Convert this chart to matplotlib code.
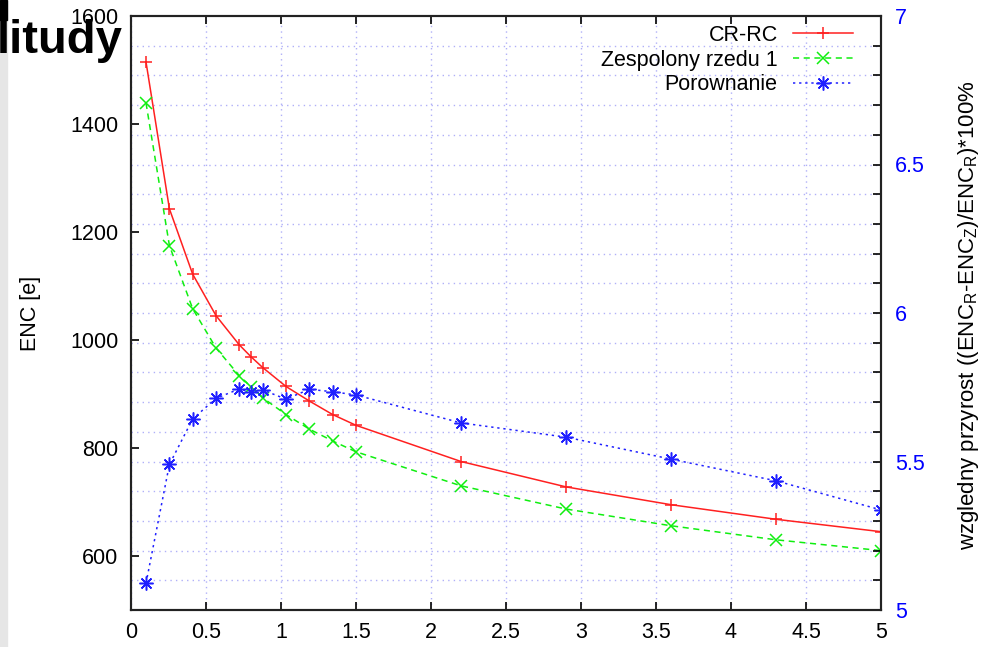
import matplotlib
matplotlib.use("Agg")
import matplotlib.pyplot as plt
from matplotlib.ticker import MultipleLocator, FuncFormatter
from matplotlib.patches import Rectangle

plt.rcParams['font.family'] = ['Liberation Sans', 'DejaVu Sans']
plt.rcParams['mathtext.fontset'] = 'custom'
plt.rcParams['mathtext.rm'] = 'Liberation Sans'
plt.rcParams['mathtext.it'] = 'Liberation Sans:italic'

# data
x = [0.1, 0.256, 0.411, 0.567, 0.722, 0.8, 0.878, 1.033, 1.189, 1.344, 1.5,
     2.2, 2.9, 3.6, 4.3, 5.0]
crrc = [1515, 1243, 1122, 1045, 991, 969, 949, 914, 887, 862, 842,
        775, 728, 695, 668, 645]
zespolony = [1439, 1175, 1058, 985, 934, 913, 893, 862, 835, 813, 793,
             730, 687, 656, 630, 610]
porownanie = [5.09, 5.49, 5.643, 5.713, 5.744, 5.734, 5.741, 5.71, 5.743, 5.735, 5.724,
              5.63, 5.582, 5.508, 5.435, 5.337]
labels = ["CR-RC", "Zespolony rzedu 1", "Porownanie"]

W, H = 983, 647
fig = plt.figure(figsize=(W / 100, H / 100), dpi=100)
ax = fig.add_axes([131 / W, (H - 610) / H, 750 / W, 594 / H])
ax2 = ax.twinx()

fs = 15.5
gridcol = '#b0b0f8'

ax.set_xlim(0, 5)
ax.set_ylim(500, 1600)
ax2.set_ylim(5, 7)

ax.xaxis.set_major_locator(MultipleLocator(0.5))
ax.set_yticks([600, 800, 1000, 1200, 1400, 1600])
# horizontal grid follows the right axis 0.1 steps
ax.set_yticks([500 + k * 55 for k in range(21)], minor=True)
ax2.yaxis.set_major_locator(MultipleLocator(0.5))
ax2.yaxis.set_minor_locator(MultipleLocator(0.1))

fmt = FuncFormatter(lambda v, p: "%g" % v)
ax.xaxis.set_major_formatter(fmt)
ax2.yaxis.set_major_formatter(fmt)

ax.grid(True, which='major', axis='x', color=gridcol, linestyle=(0, (1, 3)), linewidth=1)
ax.grid(True, which='minor', axis='y', color=gridcol, linestyle=(0, (1, 3)), linewidth=1)
ax.set_axisbelow(True)

ax.tick_params(axis='x', direction='in', length=6, width=1.2, top=True,
               labelsize=fs, pad=9)
ax.tick_params(axis='y', which='major', direction='in', length=6, width=1.2,
               right=False, labelsize=fs, pad=9)
ax.tick_params(axis='y', which='minor', length=0)
ax2.tick_params(axis='y', which='both', direction='in', length=6, width=1.2,
                labelsize=fs, labelcolor='#0000ff', pad=10)

for a in (ax, ax2):
    for s in a.spines.values():
        s.set_linewidth(1.5)
        s.set_color('#222222')

l1, = ax.plot(x, crrc, color='#ff2020', linewidth=1.1, marker='+',
              markersize=9, markeredgewidth=1.1, label=labels[0])
l2, = ax.plot(x, zespolony, color='#10ee10', linewidth=1.1, linestyle=(0, (4, 3)),
              marker='x', markersize=8, markeredgewidth=1.1, label=labels[1])
l3, = ax2.plot(x, porownanie, color='#2020ff', linewidth=1.1, linestyle=(0, (1.5, 2.5)),
               marker=(8, 2, 0), markersize=10, markeredgewidth=1.1, label=labels[2])

ax.set_ylabel("ENC [e]", fontsize=fs)
ax.yaxis.set_label_coords(41 / W, (H - 313) / H, transform=fig.transFigure)
ax2.set_ylabel(r'wzgledny przyrost ((ENC$_\mathrm{R}$-ENC$_\mathrm{Z}$)/ENC$_\mathrm{R}$)*100%',
               fontsize=16)
ax2.yaxis.set_label_coords(956 / W, (H - 315) / H, transform=fig.transFigure)

leg = ax2.legend(handles=[l1, l2, l3], loc='upper right', frameon=False,
                 markerfirst=False, fontsize=fs, handlelength=2.8,
                 handletextpad=0.7, labelspacing=0.17, borderpad=0,
                 borderaxespad=0,
                 bbox_to_anchor=(853 / W, (H - 25) / H),
                 bbox_transform=fig.transFigure)

# cut-off title and strip at the left edge
fig.patches.append(Rectangle((0, 0), 7 / W, 1, transform=fig.transFigure,
                             color='#e6e6e6', zorder=0))
fig.patches.append(Rectangle((0, 1 - 20 / H), 7 / W, 20 / H, transform=fig.transFigure,
                             color='black', zorder=1))
fig.text(-3 / W, (H - 53) / H, "litudy", fontsize=34, fontweight='bold',
         ha='left', va='baseline', zorder=5)

fig.savefig("out.png", dpi=100)
